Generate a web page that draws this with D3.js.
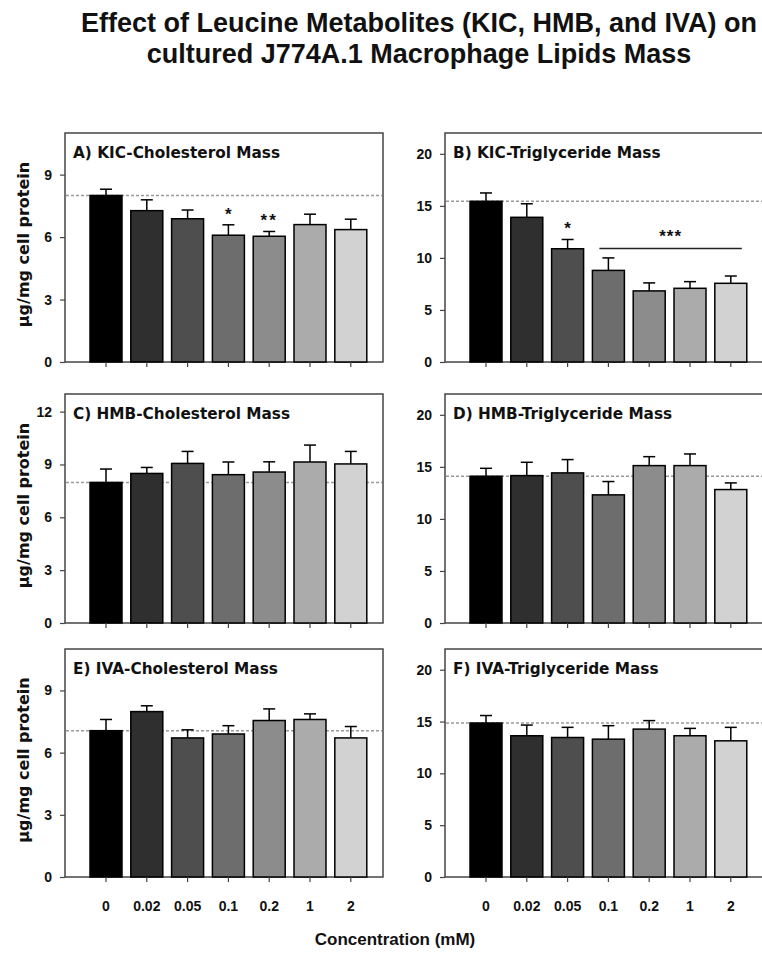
<!DOCTYPE html>
<html>
<head>
<meta charset="utf-8">
<script src="https://cdn.jsdelivr.net/npm/d3@7"></script>
<style>
  html, body { margin: 0; padding: 0; background: #fff; }
  svg { display: block; }
</style>
</head>
<body>
<svg id="chart" width="762" height="954"></svg>
<script>
// ---------------- DATA ----------------
const categories = ["0", "0.02", "0.05", "0.1", "0.2", "1", "2"];

const titleLines = [
  "Effect of Leucine Metabolites (KIC, HMB, and IVA) on",
  "cultured J774A.1 Macrophage Lipids Mass"
];
const xAxisTitle = "Concentration (mM)";
const yAxisTitle = "µg/mg cell protein";

const panelTitles = [
  "A) KIC-Cholesterol Mass", "B) KIC-Triglyceride Mass",
  "C) HMB-Cholesterol Mass", "D) HMB-Triglyceride Mass",
  "E) IVA-Cholesterol Mass", "F) IVA-Triglyceride Mass"
];

// means
const kicChol = [8.0, 7.27, 6.88, 6.09, 6.04, 6.6, 6.36];
const kicTG   = [15.44, 13.9, 10.88, 8.8, 6.83, 7.08, 7.56];
const hmbChol = [7.98, 8.49, 9.06, 8.42, 8.57, 9.14, 9.03];
const hmbTG   = [14.1, 14.16, 14.42, 12.31, 15.12, 15.12, 12.82];
const ivaChol = [7.06, 7.98, 6.71, 6.9, 7.55, 7.6, 6.71];
const ivaTG   = [14.86, 13.63, 13.46, 13.3, 14.27, 13.63, 13.14];

// standard errors (upper error bar)
const kicCholErr = [0.3, 0.52, 0.42, 0.5, 0.23, 0.5, 0.5];
const kicTGErr   = [0.8, 1.3, 0.89, 1.2, 0.77, 0.64, 0.7];
const hmbCholErr = [0.76, 0.34, 0.68, 0.72, 0.58, 0.96, 0.71];
const hmbTGErr   = [0.76, 1.28, 1.28, 1.28, 0.86, 1.12, 0.64];
const ivaCholErr = [0.54, 0.28, 0.39, 0.4, 0.56, 0.27, 0.55];
const ivaTGErr   = [0.72, 1.03, 0.98, 1.3, 0.82, 0.71, 1.3];

// y-axis ticks / maxima
const cholTicks    = [0, 3, 6, 9];
const hmbCholTicks = [0, 3, 6, 9, 12];
const tgTicks      = [0, 5, 10, 15, 20];
const cholMax = 11, hmbCholMax = 13, tgMax = 22;

// significance markers: [category index, label]
const kicCholStars = [[3, "*"], [4, "**"]];
const kicTGStars   = [[2, "*"]];
// significance bracket in panel B: from category 3 to 6 at value
const kicTGBracket = { from: 3, to: 6, value: 10.9, label: "***" };

const barColors = ["#000000", "#2f2f2f", "#4e4e4e", "#6d6d6d", "#8c8c8c", "#ababab", "#d2d2d2"];

// ---------------- LAYOUT ----------------
const svg = d3.select("#chart");
const colX = [65, 445];              // frame left
const frameW = 318;
const rows = [
  { top: 133, bottom: 362 },
  { top: 394, bottom: 623 },
  { top: 649, bottom: 877 }
];

const panels = [
  { title: panelTitles[0], values: kicChol, errs: kicCholErr, ticks: cholTicks, max: cholMax, col: 0, row: 0, stars: kicCholStars },
  { title: panelTitles[1], values: kicTG,   errs: kicTGErr,   ticks: tgTicks,   max: tgMax,   col: 1, row: 0, stars: kicTGStars, bracket: kicTGBracket },
  { title: panelTitles[2], values: hmbChol, errs: hmbCholErr, ticks: hmbCholTicks, max: hmbCholMax, col: 0, row: 1 },
  { title: panelTitles[3], values: hmbTG,   errs: hmbTGErr,   ticks: tgTicks,   max: tgMax,   col: 1, row: 1 },
  { title: panelTitles[4], values: ivaChol, errs: ivaCholErr, ticks: cholTicks, max: cholMax, col: 0, row: 2 },
  { title: panelTitles[5], values: ivaTG,   errs: ivaTGErr,   ticks: tgTicks,   max: tgMax,   col: 1, row: 2 }
];

const labelFont = "'DejaVu Sans', Verdana, sans-serif";
const arialFont = "'Liberation Sans', Arial, sans-serif";

// Title
svg.append("g").selectAll("text").data(titleLines).join("text")
  .attr("x", 419)
  .attr("y", (d, i) => 32 + i * 31)
  .attr("text-anchor", "middle")
  .attr("font-family", arialFont)
  .attr("font-weight", "bold")
  .attr("font-size", 27)
  .attr("fill", "#111")
  .text(d => d);

panels.forEach(p => {
  const left = colX[p.col], right = left + frameW;
  const top = rows[p.row].top, bottom = rows[p.row].bottom;
  const g = svg.append("g");

  const x = d3.scaleBand().domain(categories)
    .range([left + 20.6, left + 306.2])
    .paddingInner(0.216).paddingOuter(0.108);
  const y = d3.scaleLinear().domain([0, p.max]).range([bottom, top]);

  // frame
  g.append("rect")
    .attr("x", left).attr("y", top)
    .attr("width", frameW).attr("height", bottom - top)
    .attr("fill", "none").attr("stroke", "#444").attr("stroke-width", 1.5);

  // dashed control line
  g.append("line")
    .attr("x1", left + 1).attr("x2", right - 1)
    .attr("y1", y(p.values[0])).attr("y2", y(p.values[0]))
    .attr("stroke", "#9a9a9a").attr("stroke-width", 1.5)
    .attr("stroke-dasharray", "3,2");

  // error bars
  const eb = g.append("g").attr("stroke", "#000").attr("stroke-width", 1.5);
  categories.forEach((c, i) => {
    const cx = x(c) + x.bandwidth() / 2;
    const yTop = y(p.values[i] + p.errs[i]);
    eb.append("line").attr("x1", cx).attr("x2", cx)
      .attr("y1", y(p.values[i])).attr("y2", yTop);
    eb.append("line").attr("x1", cx - 6).attr("x2", cx + 6)
      .attr("y1", yTop).attr("y2", yTop);
  });

  // bars
  g.append("g").selectAll("rect").data(p.values).join("rect")
    .attr("x", (d, i) => x(categories[i]))
    .attr("y", d => y(d))
    .attr("width", x.bandwidth())
    .attr("height", d => y(0) - y(d))
    .attr("fill", (d, i) => barColors[i])
    .attr("stroke", "#000").attr("stroke-width", 1.5);

  // y axis
  const yAxis = d3.axisLeft(y).tickValues(p.ticks).tickSize(5).tickPadding(8).tickFormat(d3.format("d"));
  const ya = g.append("g").attr("transform", `translate(${left},0)`).call(yAxis);
  ya.select(".domain").remove();
  ya.selectAll(".tick line").attr("stroke", "#444").attr("stroke-width", 1.2);
  ya.selectAll(".tick text")
    .attr("font-family", arialFont).attr("font-weight", "bold")
    .attr("font-size", 14).attr("fill", "#111");

  // x axis
  const xAxis = d3.axisBottom(x).tickSize(5).tickPadding(19);
  const xa = g.append("g").attr("transform", `translate(0,${bottom})`).call(xAxis);
  xa.select(".domain").remove();
  xa.selectAll(".tick line").attr("stroke", "#444").attr("stroke-width", 1.2);
  xa.selectAll(".tick text")
    .attr("font-family", arialFont).attr("font-weight", "bold")
    .attr("font-size", 14).attr("fill", "#111")
    .attr("opacity", p.row === 2 ? 1 : 0);

  // panel title
  g.append("text")
    .attr("x", left + 8).attr("y", top + 25)
    .attr("font-family", labelFont).attr("font-weight", "bold")
    .attr("font-size", 15.3).attr("fill", "#111")
    .text(p.title);

  // stars
  (p.stars || []).forEach(([i, lab]) => {
    const cx = x(categories[i]) + x.bandwidth() / 2;
    g.append("text")
      .attr("x", cx).attr("y", y(p.values[i] + p.errs[i]) - 5)
      .attr("text-anchor", "middle")
      .attr("font-family", arialFont).attr("font-weight", "bold")
      .attr("font-size", 17).attr("letter-spacing", lab.length > 1 ? 2 : 0)
      .attr("fill", "#111")
      .text(lab);
  });

  if (p.bracket) {
    const b = p.bracket;
    const x1 = x(categories[b.from]) + 7;
    const x2 = x(categories[b.to]) + x.bandwidth() - 5;
    g.append("line")
      .attr("x1", x1).attr("x2", x2)
      .attr("y1", y(b.value)).attr("y2", y(b.value))
      .attr("stroke", "#222").attr("stroke-width", 1.5);
    g.append("text")
      .attr("x", (x1 + x2) / 2).attr("y", y(b.value) - 7)
      .attr("text-anchor", "middle")
      .attr("font-family", arialFont).attr("font-weight", "bold")
      .attr("font-size", 17).attr("letter-spacing", 1)
      .attr("fill", "#111")
      .text(b.label);
  }

  // y axis title for left column
  if (p.col === 0) {
    const cy = (top + bottom) / 2 - 3;
    g.append("text")
      .attr("transform", `translate(29,${cy}) rotate(-90)`)
      .attr("text-anchor", "middle")
      .attr("font-family", labelFont).attr("font-weight", "bold")
      .attr("font-size", 16).attr("fill", "#111")
      .text(yAxisTitle);
  }
});

// x axis title
svg.append("text")
  .attr("x", 395).attr("y", 945)
  .attr("text-anchor", "middle")
  .attr("font-family", arialFont).attr("font-weight", "bold")
  .attr("font-size", 17).attr("fill", "#111")
  .text(xAxisTitle);
</script>
</body>
</html>
